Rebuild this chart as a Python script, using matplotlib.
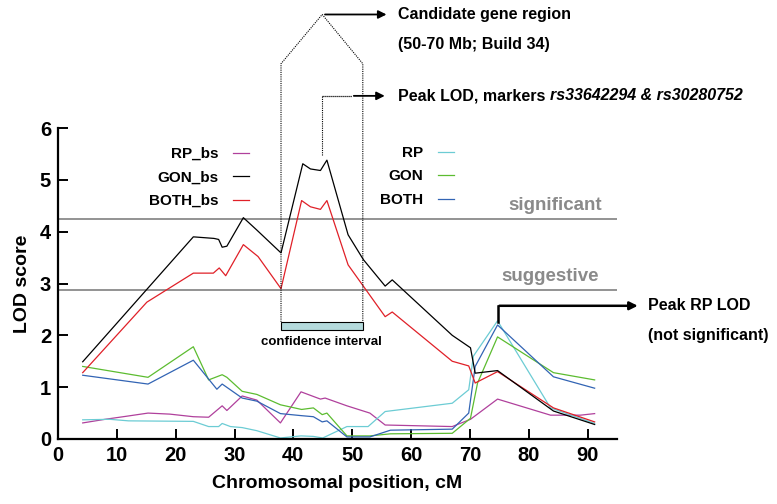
import matplotlib
matplotlib.use("Agg")
import matplotlib.pyplot as plt
from matplotlib.patches import Rectangle

plt.rcParams['font.family'] = ['Liberation Sans', 'DejaVu Sans']
plt.rcParams['font.weight'] = 'bold'

# ---- data (cM, LOD) ----
gon_bs_x = [4.2, 23.0, 26.5, 27.3, 27.9, 28.7, 31.5, 33.8, 37.9, 41.6, 42.9, 44.6, 45.7, 49.3, 51.9, 55.6, 56.8, 67.0, 70.1, 70.9, 74.7, 84.2, 91.2]
gon_bs_y = [1.49, 3.90, 3.87, 3.85, 3.70, 3.72, 4.27, 4.03, 3.59, 5.31, 5.21, 5.18, 5.38, 3.94, 3.46, 2.95, 3.07, 2.00, 1.76, 1.27, 1.32, 0.54, 0.28]

both_bs_x = [4.2, 15.1, 23.0, 26.4, 27.4, 28.5, 31.5, 34.0, 37.9, 41.4, 42.9, 44.6, 45.7, 49.3, 55.6, 56.8, 67.0, 69.8, 70.9, 74.7, 84.2, 91.2]
both_bs_y = [1.28, 2.64, 3.20, 3.20, 3.30, 3.15, 3.75, 3.52, 2.90, 4.60, 4.48, 4.43, 4.60, 3.36, 2.36, 2.45, 1.50, 1.41, 1.08, 1.30, 0.60, 0.33]

rp_bs_x = [4.2, 8.0, 11.7, 15.3, 19.0, 23.0, 25.6, 27.9, 28.7, 31.3, 33.8, 37.8, 41.3, 44.6, 45.4, 49.1, 53.0, 55.6, 67.0, 70.1, 74.7, 83.7, 88.8, 91.2]
rp_bs_y = [0.31, 0.38, 0.44, 0.50, 0.48, 0.43, 0.42, 0.64, 0.55, 0.83, 0.75, 0.31, 0.91, 0.77, 0.79, 0.64, 0.50, 0.27, 0.24, 0.38, 0.77, 0.46, 0.46, 0.49]

rp_x = [4.2, 8.8, 12.0, 23.0, 25.6, 27.3, 27.9, 29.3, 31.3, 33.8, 37.8, 41.3, 43.4, 45.0, 49.1, 52.7, 55.6, 67.0, 69.8, 70.6, 74.7, 83.7, 91.2]
rp_y = [0.37, 0.38, 0.35, 0.34, 0.24, 0.24, 0.30, 0.24, 0.22, 0.16, 0.02, 0.06, 0.05, 0.02, 0.24, 0.24, 0.53, 0.69, 0.95, 1.60, 2.28, 0.60, 0.30]

gon_x = [4.2, 15.3, 23.0, 25.6, 27.9, 28.7, 31.3, 33.8, 37.8, 41.4, 43.4, 44.9, 45.7, 49.1, 53.0, 56.5, 67.0, 70.1, 71.3, 74.7, 84.2, 91.2]
gon_y = [1.40, 1.19, 1.78, 1.14, 1.24, 1.19, 0.92, 0.86, 0.66, 0.57, 0.60, 0.47, 0.50, 0.06, 0.06, 0.10, 0.11, 0.40, 1.08, 1.97, 1.28, 1.14]

both_x = [4.2, 15.3, 23.0, 27.0, 27.9, 31.3, 33.8, 37.8, 41.4, 43.4, 44.9, 45.7, 49.1, 53.0, 56.5, 67.0, 69.8, 70.9, 74.7, 84.2, 91.2]
both_y = [1.23, 1.06, 1.52, 0.96, 1.06, 0.79, 0.73, 0.49, 0.45, 0.43, 0.33, 0.35, 0.04, 0.04, 0.17, 0.19, 0.50, 1.40, 2.20, 1.20, 0.98]

significant = 4.25
suggestive = 2.87
ci_range = [37.9, 51.8]
peak_x = 44.9
rp_peak_x = 74.7
x_ticks = [0, 10, 20, 30, 40, 50, 60, 70, 80, 90]
y_ticks = [0, 1, 2, 3, 4, 5, 6]

# ---- colours ----
c_rp_bs = '#b0409c'
c_gon_bs = 'black'
c_both_bs = '#e02028'
c_rp = '#6cccd4'
c_gon = '#5cbc30'
c_both = '#3264b4'

fig = plt.figure(figsize=(7.77, 5.04), dpi=100)
ax = fig.add_axes([58/777, 1-439/504, (617-58)/777, (439-128)/504])
ax.set_xlim(0, 95)
ax.set_ylim(0, 6)

ax.axhline(significant, color='#808080', lw=1.2, zorder=1)
ax.axhline(suggestive, color='#808080', lw=1.2, zorder=1)
ax.text(92.5, significant + 0.1, 'significant', color='#8a8a8a', fontsize=13.5,
        ha='right', va='bottom', fontweight='bold')
ax.text(91.9, suggestive + 0.1, 'suggestive', color='#8a8a8a', fontsize=13.5,
        ha='right', va='bottom', fontweight='bold')

lw = 0.9
l_rp_bs, = ax.plot(rp_bs_x, rp_bs_y, color=c_rp_bs, lw=lw, label='RP_bs')
l_rp, = ax.plot(rp_x, rp_y, color=c_rp, lw=lw, label='RP')
l_gon, = ax.plot(gon_x, gon_y, color=c_gon, lw=lw, label='GON')
l_both, = ax.plot(both_x, both_y, color=c_both, lw=lw, label='BOTH')
l_both_bs, = ax.plot(both_bs_x, both_bs_y, color=c_both_bs, lw=lw, label='BOTH_bs')
l_gon_bs, = ax.plot(gon_bs_x, gon_bs_y, color=c_gon_bs, lw=lw, label='GON_bs')

# spines / ticks
for s in ['top', 'right']:
    ax.spines[s].set_visible(False)
for s in ['left', 'bottom']:
    ax.spines[s].set_linewidth(1.6)
ax.set_xticks(x_ticks)
ax.set_yticks(y_ticks)
ax.tick_params(direction='in', length=7, width=1.4, labelsize=14.5, pad=5)
for t in ax.get_xticklabels() + ax.get_yticklabels():
    t.set_fontweight('bold')
ax.set_xlabel('Chromosomal position, cM', fontsize=14, fontweight='bold', labelpad=7)
ax.set_ylabel('LOD score', fontsize=14, fontweight='bold', labelpad=6)

# legends
leg_kw = dict(frameon=False, markerfirst=False, fontsize=11,
              labelspacing=0.62, borderpad=0, borderaxespad=0,
              handlelength=1.05, handletextpad=0.95)
leg1 = fig.legend([l_rp_bs, l_gon_bs, l_both_bs], ['RP_bs', 'GON_bs', 'BOTH_bs'],
                  loc='upper right', bbox_to_anchor=(249/777, 1-147/504), **leg_kw)
leg2 = fig.legend([l_rp, l_gon, l_both], ['RP', 'GON', 'BOTH'],
                  loc='upper right', bbox_to_anchor=(454/777, 1-146/504), **leg_kw)
for lg in (leg1, leg2):
    for t in lg.get_texts():
        t.set_fontweight('bold')

# confidence interval bar
ax.add_patch(Rectangle((ci_range[0], 2.1), ci_range[1] - ci_range[0], 0.16,
                       facecolor='#b4dadc', edgecolor='black', lw=0.8, clip_on=False, zorder=3))
ax.text(sum(ci_range) / 2, 1.98, 'confidence interval', fontsize=9.5, fontweight='bold',
        ha='center', va='top')

# candidate gene region dotted outline
top_y = 7.24
apex_y = 8.19
ax.plot([ci_range[0], ci_range[0], peak_x, ci_range[1], ci_range[1]],
        [2.26, top_y, apex_y, top_y, 2.26], color='black', lw=0.8, ls=(0, (1, 1)),
        clip_on=False)
ax.annotate('', xy=(56.3, apex_y), xytext=(peak_x, apex_y),
            arrowprops=dict(arrowstyle='-|>', color='black', lw=1.3, mutation_scale=12),
            annotation_clip=False)
ax.text(57.7, apex_y, 'Candidate gene region', fontsize=11.5, fontweight='bold',
        ha='left', va='center')
ax.text(57.7, 7.61, '(50-70 Mb; Build 34)', fontsize=11.5, fontweight='bold',
        ha='left', va='center')

# peak LOD
pk_y = 6.62
ax.plot([peak_x, peak_x], [5.48, pk_y], color='black', lw=0.8, ls=(0, (1, 1)), clip_on=False)
ax.plot([peak_x, 50.0], [pk_y, pk_y], color='black', lw=0.9, ls=(0, (1, 0.6)), clip_on=False)
ax.annotate('', xy=(56.0, pk_y), xytext=(49.8, pk_y),
            arrowprops=dict(arrowstyle='-|>', color='black', lw=1.3, mutation_scale=12),
            annotation_clip=False)
t1 = ax.text(57.7, pk_y, 'Peak LOD, markers', fontsize=11.5, fontweight='bold',
             ha='left', va='center')
ax.annotate('rs33642294 & rs30280752', xy=(1, 0.5), xycoords=t1, xytext=(3.5, 0),
            textcoords='offset points', fontsize=11.5,
            fontweight='bold', fontstyle='italic', ha='left', va='center')

# peak RP LOD
rp_arrow_y = 2.57
ax.plot([rp_peak_x, rp_peak_x], [2.26, rp_arrow_y], color='black', lw=1.8, clip_on=False)
ax.annotate('', xy=(99.0, rp_arrow_y), xytext=(rp_peak_x - 0.15, rp_arrow_y),
            arrowprops=dict(arrowstyle='-|>', color='black', lw=1.8, mutation_scale=12),
            annotation_clip=False)
ax.text(100.2, rp_arrow_y, 'Peak RP LOD', fontsize=11.5, fontweight='bold', ha='left', va='center')
ax.text(100.2, 2.0, '(not significant)', fontsize=11.5, fontweight='bold', ha='left', va='center')

fig.savefig('out.png', dpi=100)
